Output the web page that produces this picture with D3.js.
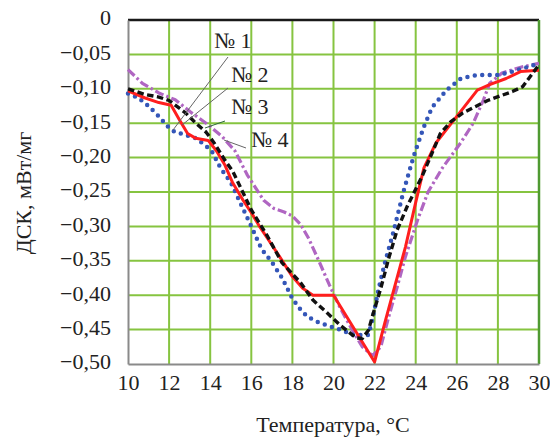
<!DOCTYPE html>
<html><head><meta charset="utf-8">
<script src="https://cdn.jsdelivr.net/npm/d3@7"></script>
<style>body{margin:0;background:#fff}svg{display:block}text{font-family:"Liberation Serif","Times New Roman",serif;fill:#222}</style>
</head><body><svg width="550" height="440"></svg>
<script>
const xTicks=[10,12,14,16,18,20,22,24,26,28,30];
const yTicks=[0,-0.05,-0.10,-0.15,-0.20,-0.25,-0.30,-0.35,-0.40,-0.45,-0.50];
const seriesNames=["№ 1","№ 2","№ 3","№ 4"];
const t1=[10,10.5,11,11.5,12,12.3,12.8,13.3,13.8,14.1,14.5,15,15.5,16,16.5,17,17.5,18,18.5,19,19.5,20,20.5,21,21.7,21.9,22.2,22.5,22.9,23.4,23.9,24.4,24.8,25.5,26.2,27,28,28.7,29.5,30];
const v1=[-0.107,-0.113,-0.125,-0.14,-0.157,-0.163,-0.167,-0.172,-0.183,-0.192,-0.215,-0.236,-0.268,-0.30,-0.333,-0.352,-0.375,-0.405,-0.425,-0.436,-0.442,-0.447,-0.452,-0.458,-0.458,-0.435,-0.39,-0.353,-0.31,-0.25,-0.198,-0.155,-0.127,-0.102,-0.085,-0.08,-0.08,-0.075,-0.068,-0.063];
const t2=[10,10.8,11.5,12.1,12.5,12.9,13.3,13.9,14.3,14.7,15.1,15.6,16,16.4,16.8,17.4,18,18.5,19,20,22,22.5,23,23.5,24,24.4,25,26,27,27.6,28.4,29.1,30];
const v2=[-0.103,-0.113,-0.12,-0.124,-0.145,-0.165,-0.172,-0.175,-0.19,-0.21,-0.237,-0.262,-0.28,-0.30,-0.318,-0.345,-0.373,-0.39,-0.40,-0.40,-0.497,-0.44,-0.385,-0.33,-0.265,-0.215,-0.178,-0.14,-0.102,-0.094,-0.085,-0.075,-0.073];
const t3=[10,10.8,11.5,12,12.8,13.3,13.8,14.2,14.7,15.1,15.5,16,16.8,17.5,18.4,19,19.7,20.3,21.1,21.4,21.7,21.9,22.3,22.7,23.1,23.6,24.3,25.2,25.7,26.3,27.5,28.7,29.2,30];
const v3=[-0.100,-0.108,-0.112,-0.117,-0.135,-0.15,-0.163,-0.179,-0.203,-0.22,-0.245,-0.276,-0.315,-0.353,-0.382,-0.407,-0.426,-0.443,-0.462,-0.463,-0.451,-0.43,-0.39,-0.345,-0.305,-0.27,-0.228,-0.165,-0.148,-0.135,-0.117,-0.104,-0.097,-0.065];
const t4=[10,10.7,11.5,12.3,13.1,13.8,14.6,15.2,15.8,16.6,17.1,17.6,18,18.4,18.8,19.3,19.8,20.3,20.9,21.4,21.9,22.3,22.7,23.1,23.5,24.1,24.6,25.3,26.2,26.8,27.3,27.6,28.2,29.2,30];
const v4=[-0.072,-0.092,-0.106,-0.116,-0.135,-0.15,-0.17,-0.19,-0.225,-0.262,-0.274,-0.279,-0.285,-0.297,-0.318,-0.351,-0.385,-0.417,-0.45,-0.475,-0.488,-0.475,-0.43,-0.388,-0.344,-0.29,-0.25,-0.215,-0.178,-0.15,-0.116,-0.092,-0.077,-0.068,-0.063];

const svg=d3.select("svg");
const L=128,R=539,T=20,B=364;
const x=d3.scaleLinear().domain([10,30]).range([L,R]);
const y=d3.scaleLinear().domain([-0.5,0]).range([B,T]);
const fmt=v=>v===0?"0":"\u2212"+Math.abs(v).toFixed(2).replace(".",",");

const g=svg.append("g");
g.append("g").selectAll("line").data(xTicks.slice(1,-1)).join("line")
 .attr("x1",d=>x(d)).attr("x2",d=>x(d)).attr("y1",T).attr("y2",B)
 .attr("stroke","#86c440").attr("stroke-width",2);
g.append("g").selectAll("line").data(yTicks.slice(1,-1)).join("line")
 .attr("y1",d=>y(d)).attr("y2",d=>y(d)).attr("x1",L).attr("x2",R)
 .attr("stroke","#86c440").attr("stroke-width",2);
g.append("line").attr("x1",L).attr("x2",R).attr("y1",T).attr("y2",T).attr("stroke","#1a1a1a").attr("stroke-width",2.5);
g.append("line").attr("x1",R).attr("x2",R).attr("y1",T).attr("y2",B).attr("stroke","#4f9a32").attr("stroke-width",2.5);

const xa=svg.append("g").attr("transform",`translate(0,${B})`)
 .call(d3.axisBottom(x).tickValues(xTicks).tickSize(0).tickPadding(10).tickFormat(d3.format("d")));
xa.select(".domain").attr("stroke","#8a8a8a").attr("stroke-width",2);
xa.selectAll("text").attr("font-size",22).attr("font-family","Liberation Serif").attr("fill","#222");
const ya=svg.append("g").attr("transform",`translate(${L},0)`)
 .call(d3.axisLeft(y).tickValues(yTicks).tickSize(0).tickPadding(17).tickFormat(fmt));
ya.select(".domain").attr("stroke","#8a8a8a").attr("stroke-width",2);
ya.selectAll("text").attr("font-size",22).attr("font-family","Liberation Serif").attr("fill","#222").attr("dy","0.22em");

svg.append("text").attr("x",333).attr("y",432).attr("text-anchor","middle").attr("font-size",22).text("Температура, °C");
svg.append("text").attr("transform","translate(31,193) rotate(-90)").attr("text-anchor","middle").attr("font-size",22).text("ДСК, мВт/мг");

const line=d3.line().x(d=>x(d[0])).y(d=>y(d[1]));
const series=[
 {t:t4,v:v4,color:"#b066c2",w:3.2,dash:"9 3 2.5 3",cap:"butt"},
 {t:t1,v:v1,color:"#3456b8",w:4.5,dash:"0 7.5",cap:"round"},
 {t:t2,v:v2,color:"#ff1e1e",w:3,dash:null,cap:"butt"},
 {t:t3,v:v3,color:"#111",w:3.4,dash:"6.5 3.5",cap:"butt"}
];
series.forEach(s=>{
 svg.append("path").datum(s.t.map((t,i)=>[t,s.v[i]])).attr("d",line)
  .attr("fill","none").attr("stroke",s.color).attr("stroke-width",s.w)
  .attr("stroke-dasharray",s.dash).attr("stroke-linecap",s.cap).attr("stroke-linejoin","round");
});

const labels=[
 {name:seriesNames[0],tx:214,ty:48,lx1:228,ly1:57,lx2:173,ly2:130,c:"#666"},
 {name:seriesNames[1],tx:231,ty:82,lx1:228,ly1:88,lx2:182,ly2:125,c:"#666"},
 {name:seriesNames[2],tx:231,ty:114,lx1:225,ly1:121,lx2:205,ly2:128,c:"#2f6a3a"},
 {name:seriesNames[3],tx:251,ty:147,lx1:246,ly1:148,lx2:224,ly2:140,c:"#666"}
];
labels.forEach(l=>{
 svg.append("line").attr("x1",l.lx1).attr("y1",l.ly1).attr("x2",l.lx2).attr("y2",l.ly2).attr("stroke",l.c).attr("stroke-width",1);
 svg.append("text").attr("x",l.tx).attr("y",l.ty).attr("font-size",22).text(l.name);
});
</script></body></html>
